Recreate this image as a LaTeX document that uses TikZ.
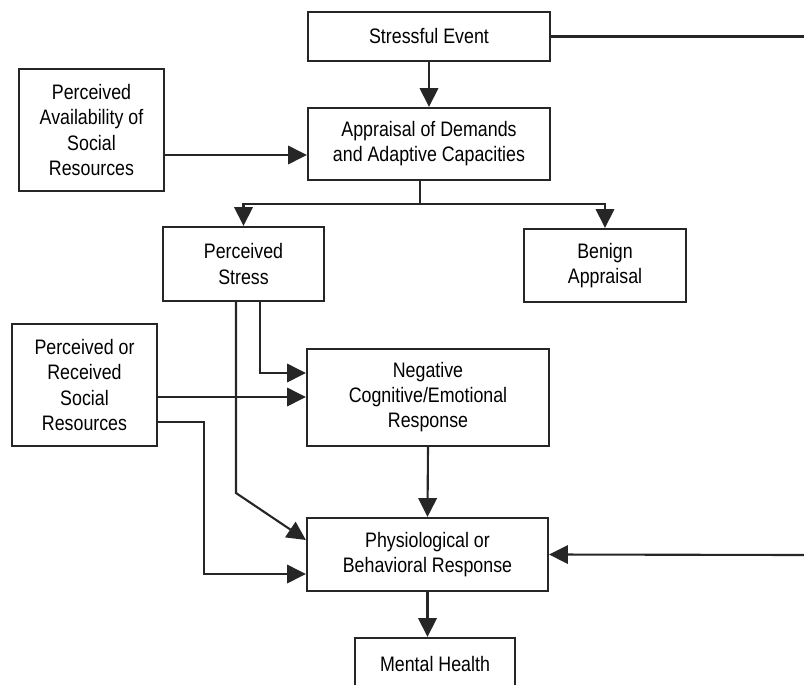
\documentclass[tikz,border=0pt]{standalone}
\usepackage{fontspec}
\setmainfont{Liberation Sans}[FakeStretch=0.85]
\usetikzlibrary{arrows.meta, positioning}

\begin{document}
\begin{tikzpicture}[
  x=0.025cm, y=-0.025cm,
  line width=1.5pt, draw=black!85,
  box/.style={draw, rectangle, align=center, inner sep=0pt,
    font=\fontsize{14.9}{17.8}\selectfont},
  arr/.style={-{Triangle[length=0.47cm, width=0.46cm]}}]

  \useasboundingbox (0,0) rectangle (804,685);

  % boxes
  \node[box, minimum width=6.05cm, minimum height=1.225cm] (event) at (429,36.5) {Stressful Event};
  \node[box, minimum width=6.05cm, minimum height=1.8cm] (appraisal) at (429,144)
	{Appraisal of Demands\\and Adaptive Capacities};
  \node[box, minimum width=3.625cm, minimum height=3.05cm] (avail) at (91.5,130)
	{Perceived\\Availability of\\Social\\Resources};
  \node[box, minimum width=4.025cm, minimum height=1.85cm] (pstress) at (243.5,264)
	{Perceived\\Stress};
  \node[box, minimum width=4.05cm, minimum height=1.825cm] (benign) at (605,265.5)
	{Benign\\Appraisal};
  \node[box, minimum width=3.625cm, minimum height=3.05cm] (resources) at (84.5,385)
	{Perceived or\\Received\\Social\\Resources};
  \node[box, minimum width=6.05cm, minimum height=2.425cm] (negative) at (428,397.5)
	{Negative\\Cognitive/Emotional\\Response};
  \node[box, minimum width=6.025cm, minimum height=1.825cm] (physio) at (427.5,554.5)
	{Physiological or\\Behavioral Response};
  \node[box, minimum width=4cm, minimum height=1.3cm] (health) at (435,664) {Mental Health};

  % bends and free ends
  \coordinate (split) at (420,204);
  \coordinate (psr) at (260,373);
  \coordinate (psl) at (236,493);
  \coordinate (diag) at (0,540);
  \coordinate (rmid) at (0,397);
  \coordinate (rlow) at (204,422);
  \coordinate (resl) at (204,574);
  \coordinate (availin) at (0,155);
  \coordinate (rout) at (804,36.5);
  \coordinate (rin) at (804,555);

  % connectors
  \draw[arr] (event.south) -- (appraisal.north);
  \draw (event.east) -- (rout);
  \draw[arr] (avail.east |- availin) -- (appraisal.west |- availin);
  \draw (split |- appraisal.south) -- (split);
  \draw[arr] (split) -| (pstress.north);
  \draw[arr] (split) -| (benign.north);
  \draw[arr] (pstress.south -| psr) -- (psr) -- (negative.west |- psr);
  \draw[arr] (resources.east |- rmid) -- (negative.west |- rmid);
  \draw[arr] (resources.east |- rlow) -- (rlow) -- (resl) -- (physio.west |- resl);
  \draw[arr] (pstress.south -| psl) -- (psl) -- (physio.west |- diag);
  \draw[arr] (negative.south) -- (physio.north);
  \draw[arr] (physio.south) -- (physio.south |- health.north);
  \draw[arr] (rin) -- (physio.east);
\end{tikzpicture}
\end{document}
